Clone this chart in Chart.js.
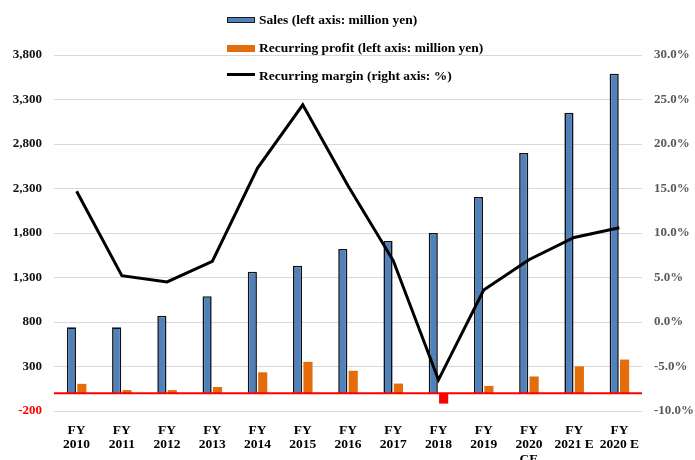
<!DOCTYPE html>
<html lang="en">
<head>
<meta charset="UTF-8">
<title>Sales and recurring profit</title>
<script src="https://cdn.jsdelivr.net/npm/chart.js"></script>
<style>
  body { margin: 0; background: #fff; }
  #wrap { position: relative; width: 695px; height: 460px; }
  .lg { position: absolute; left: 259px; height: 16px; line-height: 16px; white-space: nowrap;
        font: bold 13.5px 'Liberation Serif', 'Times New Roman', serif; color: #000; }
  .sym { position: absolute; left: 227px; width: 28px; box-sizing: border-box; }
</style>
</head>
<body>
<div id="wrap">
  <canvas id="myChart" width="695" height="460"></canvas>
  <div class="sym" style="top:17px;height:6px;background:#4f81bd;border:1.5px solid #1a1a1a"></div>
  <div class="lg" style="top:12px">Sales (left axis: million yen)</div>
  <div class="sym" style="top:45px;height:7px;background:#e46c0a"></div>
  <div class="lg" style="top:40px">Recurring profit (left axis: million yen)</div>
  <div class="sym" style="top:73px;height:3px;background:#000"></div>
  <div class="lg" style="top:68px">Recurring margin (right axis: %)</div>
</div>
<script>
// data
const categories = [['FY','2010'],['FY','2011'],['FY','2012'],['FY','2013'],['FY','2014'],['FY','2015'],
  ['FY','2016'],['FY','2017'],['FY','2018'],['FY','2019'],['FY','2020','CE'],['FY','2021 E'],['FY','2020 E']];
const sales   = [740, 740, 870, 1090, 1365, 1432, 1620, 1710, 1800, 2205, 2700, 3150, 3590];
const profit  = [105, 35, 35, 70, 235, 352, 252, 108, -117, 82, 188, 302, 378];
const margin  = [14.7, 5.2, 4.5, 6.8, 17.3, 24.4, 15.3, 6.9, -6.5, 3.6, 7.0, 9.5, 10.6];
const leftTicks = { min: -200, max: 3800, step: 500 };
const rightTicks = { min: -10, max: 30, step: 5 };

const serif = "'Liberation Serif', 'Times New Roman', serif";

// red line at zero on the left axis
const zeroLine = {
  id: 'zeroLine',
  afterDatasetsDraw(chart) {
    const y = chart.scales.y.getPixelForValue(0);
    const a = chart.chartArea;
    const c = chart.ctx;
    c.save();
    c.strokeStyle = '#ff0000';
    c.lineWidth = 2;
    c.beginPath();
    c.moveTo(a.left, y);
    c.lineTo(a.right, y);
    c.stroke();
    c.restore();
  }
};

new Chart(document.getElementById('myChart'), {
  data: {
    labels: categories,
    datasets: [
      { type: 'line', label: 'Recurring margin (right axis: %)', data: margin, yAxisID: 'y2',
        borderColor: '#000', borderWidth: 3, pointRadius: 0, tension: 0, order: 0 },
      { type: 'bar', label: 'Sales (left axis: million yen)', data: sales, yAxisID: 'y',
        backgroundColor: '#4f81bd', borderColor: '#111', borderWidth: 1.6,
        categoryPercentage: 0.46, barPercentage: 0.88, order: 1 },
      { type: 'bar', label: 'Recurring profit (left axis: million yen)', data: profit, yAxisID: 'y',
        backgroundColor: profit.map(v => v < 0 ? '#ff0000' : '#e46c0a'), borderWidth: 0,
        categoryPercentage: 0.46, barPercentage: 0.88, order: 1 }
    ]
  },
  options: {
    responsive: false,
    animation: false,
    layout: { padding: { top: 55, left: 0, right: 0, bottom: 0 } },
    plugins: { legend: { display: false }, tooltip: { enabled: false } },
    scales: {
      x: {
        grid: { display: false, drawTicks: false },
        border: { display: false },
        ticks: { color: '#000', padding: 12, maxRotation: 0, autoSkip: false,
                 font: { family: serif, size: 13.5, weight: 'bold', lineHeight: 1.07 } },
        afterFit(s) { s.height = 49; }
      },
      y: {
        position: 'left',
        min: leftTicks.min, max: leftTicks.max,
        grid: { color: '#d9d9d9', lineWidth: 1, drawTicks: false },
        border: { display: false },
        ticks: {
          stepSize: leftTicks.step, padding: 12,
          color: c => c.tick.value < 0 ? '#ff0000' : '#111',
          font: { family: serif, size: 13, weight: 'bold' },
          callback: v => v.toLocaleString('en-US')
        },
        afterFit(s) { s.width = 54; }
      },
      y2: {
        position: 'right',
        min: rightTicks.min, max: rightTicks.max,
        grid: { display: false, drawTicks: false },
        border: { display: false },
        ticks: {
          stepSize: rightTicks.step, padding: 12, color: '#595959',
          font: { family: serif, size: 13, weight: 'bold' },
          callback: v => v.toFixed(1) + '%'
        },
        afterFit(s) { s.width = 53; }
      }
    }
  },
  plugins: [zeroLine]
});
</script>
</body>
</html>
